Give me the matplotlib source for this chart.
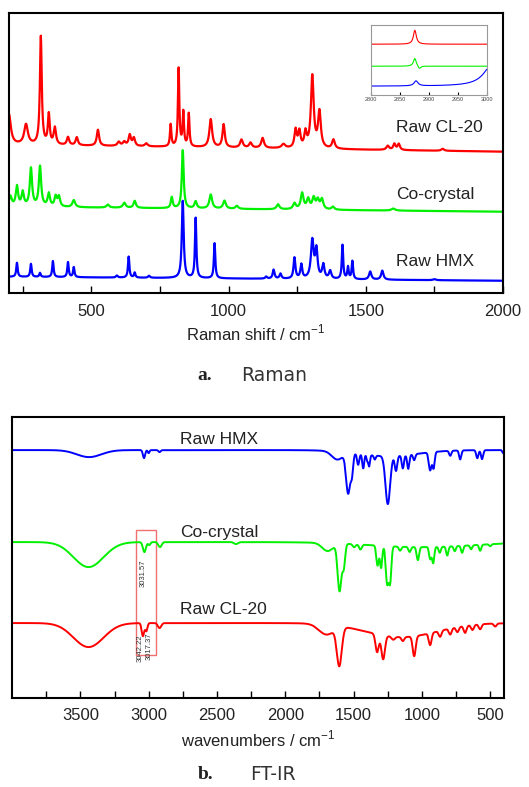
import numpy as np
import matplotlib
matplotlib.use("Agg")
import matplotlib.pyplot as plt

plt.rcParams["font.family"] = ["Liberation Sans", "DejaVu Sans"]
plt.rcParams["mathtext.fontset"] = "custom"
plt.rcParams["mathtext.rm"] = "Liberation Sans"

# ---- Raman data: peaks (position cm-1, height, half width) ----
raman_names = ["Raw CL-20", "Co-crystal", "Raw HMX"]
raman_colors = ["#ff0000", "#00f000", "#0000ff"]
raman_base = [(148, 141), (86, 81), (16, 12)]  # level at 200 and 2000 cm-1

cl20_pos = [200, 262, 316, 345, 367, 415, 447, 524, 600, 620, 640, 655, 700, 789, 818, 835, 855,
            935, 982, 1047, 1080, 1124, 1200, 1244, 1258, 1280, 1305, 1331, 1382, 1580, 1604, 1620, 1780]
cl20_h = [30, 20, 108, 30, 17, 8, 8, 16, 4, 4, 11, 8, 3, 22, 78, 34, 33,
          28, 23, 8, 5, 10, 4, 18, 16, 15, 72, 36, 9, 4, 6, 6, 2]
cl20_w = [8, 8, 4, 4, 5, 5, 5, 5, 6, 6, 5, 5, 6, 3, 3, 3, 3,
          6, 5, 6, 6, 6, 8, 5, 5, 5, 6, 6, 6, 6, 5, 5, 6]

cc_pos = [205, 229, 250, 280, 313, 345, 370, 382, 436, 560, 620, 658, 793, 833, 880, 935, 985,
          1030, 1180, 1240, 1268, 1290, 1310, 1325, 1340, 1380, 1600]
cc_h = [10, 20, 14, 38, 40, 13, 10, 10, 7, 3, 5, 7, 11, 58, 7, 14, 8,
        3, 5, 6, 16, 10, 11, 9, 10, 3, 2]
cc_w = [6, 5, 5, 5, 5, 5, 5, 5, 6, 6, 6, 5, 4, 4, 5, 6, 6,
        6, 6, 6, 6, 6, 6, 6, 6, 6, 8]

hmx_pos = [229, 280, 313, 360, 415, 436, 593, 636, 658, 710, 833, 880, 949, 1137, 1164, 1189,
           1240, 1265, 1305, 1320, 1345, 1370, 1415, 1435, 1451, 1516, 1560, 1750]
hmx_h = [14, 13, 4, 16, 15, 10, 2, 21, 5, 2, 77, 60, 35, 2, 9, 5,
         21, 14, 38, 28, 14, 8, 34, 12, 18, 8, 9, 1]
hmx_w = [3, 3, 3, 3, 3, 3, 4, 3, 3, 4, 4, 3, 3, 4, 4, 4,
         4, 4, 6, 5, 5, 5, 3, 3, 3, 5, 5, 6]

# inset (C-H region): peaks per trace
inset_base = [51, 29, 9]
inset_pos = [[2876], [2876, 2884], [2878, 3010]]
inset_h = [[14], [8, -3], [5, 22]]
inset_w = [[3], [3, 3], [4, 18]]
inset_ticks = [2800, 2850, 2900, 2950, 3000]

# ---- FT-IR data: absorption bands (position cm-1, depth, width) ----
ir_names = ["Raw HMX", "Co-crystal", "Raw CL-20"]
ir_colors = ["#0000ff", "#00f000", "#ff0000"]
ir_base = [248, 156, 75]

hmx_ir_pos = [3436, 3034, 3000, 2920, 1620, 1250, 1540, 1512, 1467, 1430, 1400, 1386, 1345,
              1250, 1190, 1140, 1100, 1057, 940, 915, 793, 720, 595, 560, 406]
hmx_ir_d = [7, 8, 3, 2, 8, 6, 40, 18, 11, 14, 6, 11, 4,
            48, 15, 13, 14, 6, 18, 16, 5, 9, 8, 9, 3]
hmx_ir_w = [90, 8, 6, 8, 40, 220, 15, 9, 8, 7, 6, 6, 7,
            17, 9, 8, 8, 8, 10, 8, 8, 8, 8, 8, 6]

cc_ir_pos = [3440, 3031, 2995, 2917, 2360, 1000, 1690, 1603, 1572, 1496, 1450, 1325, 1299, 1255,
             1233, 1160, 1090, 1030, 940, 918, 870, 815, 760, 706, 640, 574, 500]
cc_ir_d = [25, 10, 3, 5, 2, 5, 8, 47, 22, 3, 5, 20, 22, 37,
           35, 4, 5, 13, 12, 16, 6, 9, 5, 7, 4, 6, 2]
cc_ir_w = [110, 11, 8, 12, 14, 380, 40, 14, 10, 10, 10, 9, 8, 10,
           9, 9, 9, 9, 8, 8, 8, 8, 8, 8, 8, 8, 8]

cl_ir_pos = [3440, 3042, 3017, 2920, 1700, 1150, 1605, 1328, 1284, 1210, 1140, 1057, 940, 867,
             793, 740, 684, 630, 574, 464]
cl_ir_d = [24, 13, 8, 5, 10, 14, 38, 18, 24, 3, 4, 20, 12, 6,
           6, 5, 7, 5, 5, 3]
cl_ir_w = [110, 9, 8, 12, 55, 260, 18, 12, 13, 12, 10, 11, 10, 10,
           10, 10, 10, 10, 10, 10]

ir_marks = ["3031.57", "3042.22", "3017.37"]


def lorentz(x, pos, h, w):
    y = np.zeros_like(x)
    for p, a, g in zip(pos, h, w):
        y += a * g**2 / ((x - p) ** 2 + g**2)
    return y


def gauss(x, pos, h, w):
    y = np.zeros_like(x)
    for p, a, s in zip(pos, h, w):
        y += a * np.exp(-0.5 * ((x - p) / s) ** 2)
    return y


fig = plt.figure(figsize=(5.29, 7.87), dpi=100)

# ================= Raman =================
ax1 = fig.add_axes([0.017, 0.628, 0.934, 0.356])
x = np.arange(200, 2001, 1.0)
raman_peaks = [(cl20_pos, cl20_h, cl20_w), (cc_pos, cc_h, cc_w), (hmx_pos, hmx_h, hmx_w)]
for (pos, h, w), (b0, b1), c in zip(raman_peaks, raman_base, raman_colors):
    y = b0 + (b1 - b0) * (x - 200) / 1800 + lorentz(x, pos, h, w)
    ax1.plot(x, y, color=c, lw=1.6)

ax1.set_xlim(200, 2000)
ax1.set_ylim(0, 280)
ax1.set_xticks([500, 1000, 1500, 2000])
ax1.set_xticks([250, 750, 1250, 1750], minor=True)
ax1.set_yticks([])
ax1.tick_params(axis="x", which="both", direction="in", length=5, width=1, labelsize=12,
                pad=8, labelcolor="#222222")
ax1.set_xlabel("Raman shift / cm$^{-1}$", fontsize=12, color="#222222", labelpad=3)
for s in ax1.spines.values():
    s.set_linewidth(1.5)

for name, yy in zip(raman_names, [0.589, 0.35, 0.111]):
    ax1.text(0.783, yy, name, transform=ax1.transAxes, fontsize=12.5, color="#222222",
             ha="left", va="center", bbox=dict(facecolor="white", edgecolor="none", pad=1))

# inset
axi = fig.add_axes([0.701, 0.879, 0.219, 0.089])
xi = np.arange(2800, 3001, 1.0)
for b, pos, h, w, c in zip(inset_base, inset_pos, inset_h, inset_w, raman_colors):
    axi.plot(xi, b + lorentz(xi, pos, h, w), color=c, lw=0.8)
axi.set_xlim(2800, 3000)
axi.set_ylim(0, 70)
axi.set_xticks(inset_ticks)
axi.set_yticks([])
axi.tick_params(axis="x", direction="in", length=2, labelsize=4, pad=1.5, labelcolor="#444444")
for s in axi.spines.values():
    s.set_color("#999999")
    s.set_linewidth(0.8)

fig.text(0.374, 0.5235, "a.", fontsize=14, fontweight="bold", family="Liberation Serif",
         ha="left", va="center", color="#222222")
fig.text(0.456, 0.5235, "Raman", fontsize=13.5, family="DejaVu Sans", ha="left", va="center",
         color="#333333")

# ================= FT-IR =================
ax2 = fig.add_axes([0.0227, 0.113, 0.930, 0.357])
xr = np.arange(400, 4001, 1.0)
ir_bands = [(hmx_ir_pos, hmx_ir_d, hmx_ir_w), (cc_ir_pos, cc_ir_d, cc_ir_w), (cl_ir_pos, cl_ir_d, cl_ir_w)]
for (pos, d, w), b, c in zip(ir_bands, ir_base, ir_colors):
    ax2.plot(xr, b - gauss(xr, pos, d, w), color=c, lw=1.4)

ax2.add_patch(plt.Rectangle((2946, 43), 3092 - 2946, 168 - 43, fill=False,
                            edgecolor="#f07070", lw=1))
ax2.text(3041, 125, ir_marks[0], rotation=90, fontsize=5.5, ha="center", va="center", color="#333333")
ax2.text(3063, 50, ir_marks[1], rotation=90, fontsize=5.5, ha="center", va="center", color="#333333")
ax2.text(2997, 52, ir_marks[2], rotation=90, fontsize=5.5, ha="center", va="center", color="#333333")

ax2.set_xlim(4000, 400)
ax2.set_ylim(0, 281)
ax2.set_xticks([3500, 3000, 2500, 2000, 1500, 1000, 500])
ax2.set_xticks([3750, 3250, 2750, 2250, 1750, 1250, 750], minor=True)
ax2.set_yticks([])
ax2.tick_params(axis="x", which="both", direction="in", length=5, width=1, labelsize=12,
                pad=7, labelcolor="#222222")
ax2.set_xlabel("wavenumbers / cm$^{-1}$", fontsize=12, color="#222222", labelpad=4)
for s in ax2.spines.values():
    s.set_linewidth(1.5)

for name, yy in zip(ir_names, [0.922, 0.591, 0.317]):
    ax2.text(0.341, yy, name, transform=ax2.transAxes, fontsize=12.5, color="#222222",
             ha="left", va="center", bbox=dict(facecolor="white", edgecolor="none", pad=1))

fig.text(0.374, 0.0165, "b.", fontsize=14, fontweight="bold", family="Liberation Serif",
         ha="left", va="center", color="#222222")
fig.text(0.473, 0.0165, "FT-IR", fontsize=13.5, family="DejaVu Sans", ha="left", va="center",
         color="#333333")

fig.savefig("out.png", dpi=100)
